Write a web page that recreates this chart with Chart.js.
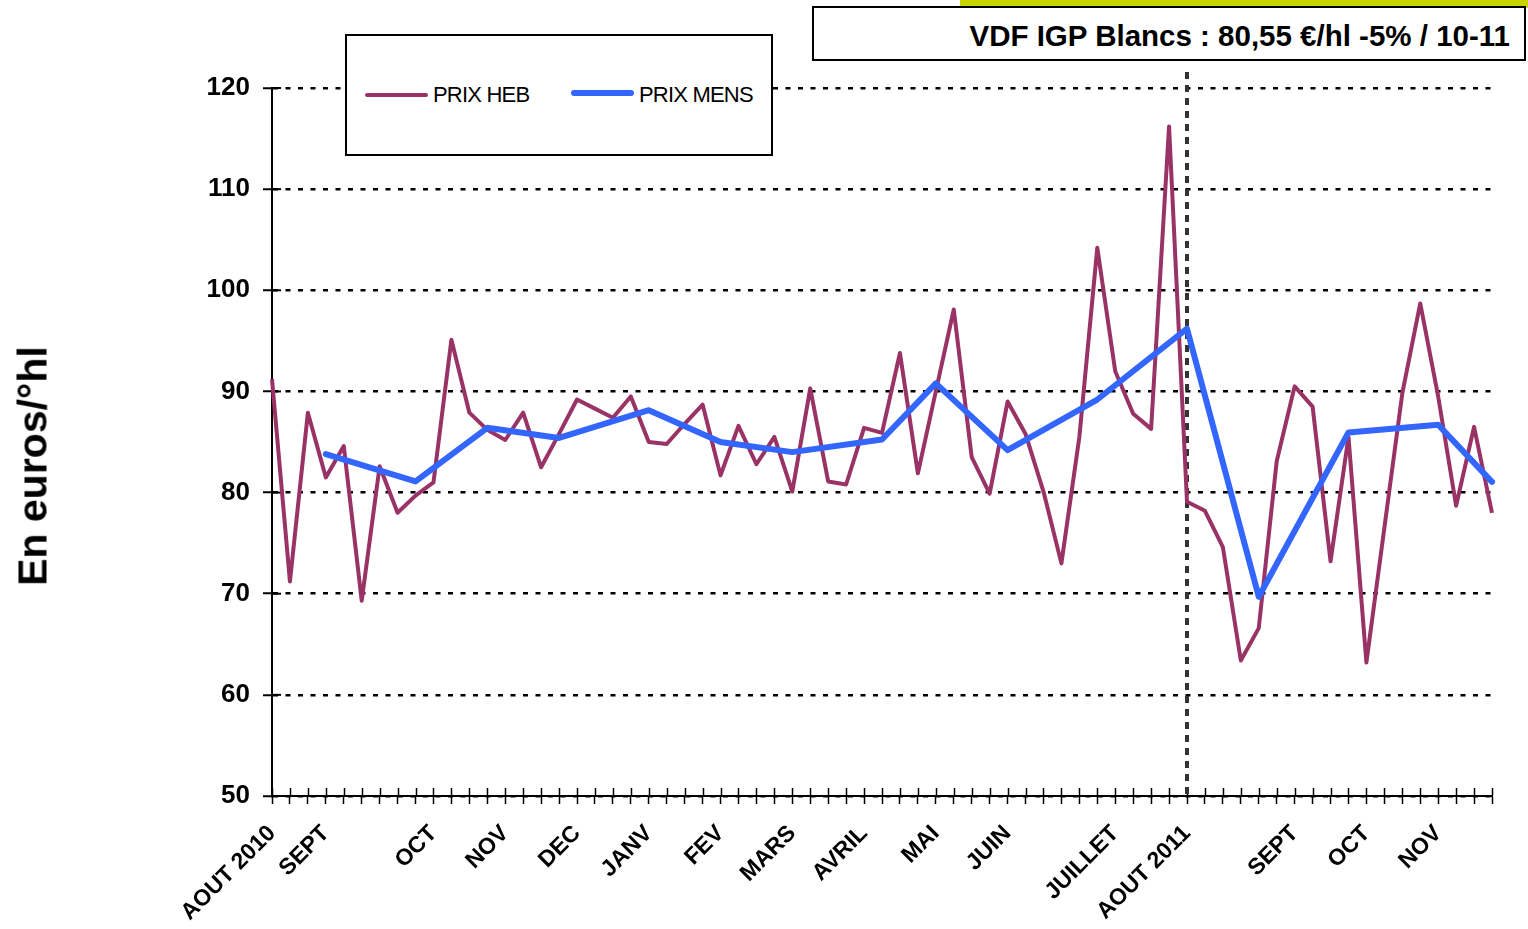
<!DOCTYPE html>
<html lang="fr">
<head>
<meta charset="utf-8">
<title>VDF IGP Blancs</title>
<script src="https://cdn.jsdelivr.net/npm/chart.js@4.4.1/dist/chart.umd.min.js"></script>
<style>
  html, body { margin: 0; padding: 0; background: #fff; }
  body { font-family: "Liberation Sans", Arial, sans-serif; }
  #wrap { position: relative; width: 1528px; height: 929px; overflow: hidden; }
  #grafico { position: absolute; left: 0; top: 0; }
  #bandeau { position: absolute; left: 960px; top: 0; width: 568px; height: 8px; background: #c8d400; }
  #titre {
    position: absolute; left: 812px; top: 6px; width: 710px; height: 51px;
    border: 2px solid #000; background: #fff; box-sizing: content-box;
    font-weight: bold; font-size: 29.5px; line-height: 55px; text-align: right;
  }
  #titre span { margin-right: 14px; }
  #legende {
    position: absolute; left: 345px; top: 34px; width: 424px; height: 118px;
    border: 2px solid #000; background: #fff; box-sizing: content-box;
  }
  .item { position: absolute; top: 46px; font-size: 22px; letter-spacing: -0.8px; line-height: 26px; }
  .trait { position: absolute; border-radius: 3px; }
  #ytitre {
    position: absolute; left: 33px; top: 466px; transform: translate(-50%, -50%) rotate(-90deg);
    font-weight: bold; font-size: 41px; white-space: nowrap;
  }
</style>
</head>
<body>
<div id="wrap">
  <canvas id="grafico" width="1528" height="929"></canvas>
  <div id="bandeau"></div>
  <div id="titre"><span>VDF IGP Blancs : 80,55 €/hl -5% / 10-11</span></div>
  <div id="legende">
    <div class="trait" style="left:18px; top:57px; width:63px; height:4px; background:#993366;"></div>
    <div class="item" style="left:86px;">PRIX HEB</div>
    <div class="trait" style="left:224px; top:54px; width:63px; height:6px; background:#3366ff;"></div>
    <div class="item" style="left:292px;">PRIX MENS</div>
  </div>
  <div id="ytitre">En euros/°hl</div>
</div>
<script>
// semaines : libellé seulement au début de chaque mois
const semaines = ['AOUT 2010', '', '', 'SEPT', '', '', '', '', '', 'OCT',
  '', '', '', 'NOV', '', '', '', 'DEC', '', '',
  '', 'JANV', '', '', '', 'FEV', '', '', '', 'MARS',
  '', '', '', 'AVRIL', '', '', '', 'MAI', '', '',
  '', 'JUIN', '', '', '', '', '', 'JUILLET', '', '',
  '', 'AOUT 2011', '', '', '', '', '', 'SEPT', '', '',
  '', 'OCT', '', '', '', 'NOV', '', '', '']

// prix hebdomadaire (euros/°hl)
const prixHeb = [91.2, 71.2, 87.9, 81.5, 84.6, 69.3, 82.6, 78.0, 79.7, 81.0,
  95.1, 87.9, 86.2, 85.2, 87.9, 82.5, 85.8, 89.2, 88.3, 87.4,
  89.5, 85.0, 84.8, 86.8, 88.7, 81.7, 86.6, 82.8, 85.5, 80.1,
  90.3, 81.1, 80.8, 86.4, 85.9, 93.8, 81.9, 90.0, 98.1, 83.5,
  79.9, 89.0, 85.8, 80.1, 73.0, 85.5, 104.2, 92.0, 87.8, 86.3,
  116.2, 79.1, 78.2, 74.6, 63.4, 66.6, 83.1, 90.5, 88.5, 73.2,
  85.5, 63.2, 76.5, 89.8, 98.7, 89.5, 78.7, 86.5, 78.0]

// prix mensuel, placé sur une semaine du mois
const prixMens = [null, null, null, 83.8, null, null, null, null, 81.1, null,
  null, null, 86.4, null, null, null, 85.4, null, null, null,
  null, 88.15, null, null, null, 85.0, null, null, null, 84.0,
  null, null, null, null, 85.25, null, null, 90.8, null, null,
  null, 84.2, null, null, null, null, 89.2, null, null, null,
  null, 96.2, null, null, null, 69.7, null, null, null, null,
  85.95, null, null, null, null, 86.7, null, null, 81.06]

const debutCampagne = 'AOUT 2011'
const graduationsY = [50, 60, 70, 80, 90, 100, 110, 120]

const police = "'Liberation Sans', Arial, sans-serif"

const extras = {
  id: 'extras',
  beforeDatasetsDraw(chart) {
    const { ctx, chartArea, scales: { x, y } } = chart
    ctx.save()
    ctx.strokeStyle = '#000'
    // petits traits qui traversent les axes
    ctx.lineWidth = 1.5
    x.ticks.forEach((t, i) => {
      const px = Math.round(x.getPixelForTick(i)) + 0.5
      ctx.beginPath()
      ctx.moveTo(px, chartArea.bottom)
      ctx.lineTo(px, chartArea.bottom - 8)
      ctx.stroke()
    })
    ctx.lineWidth = 2
    y.ticks.forEach((t, i) => {
      const py = y.getPixelForTick(i)
      ctx.beginPath()
      ctx.moveTo(chartArea.left, py)
      ctx.lineTo(chartArea.left + 9, py)
      ctx.stroke()
    })
    // séparation des campagnes
    const vx = x.getPixelForValue(semaines.indexOf(debutCampagne))
    ctx.strokeStyle = '#333'
    ctx.lineWidth = 4
    ctx.setLineDash([7, 6])
    ctx.beginPath()
    ctx.moveTo(vx, chartArea.top - 16)
    ctx.lineTo(vx, chartArea.bottom + 4)
    ctx.stroke()
    ctx.restore()
  }
}

const ctx = document.getElementById('grafico')
let grafico = new Chart(ctx, {
  type: 'line',
  data: {
    labels: semaines,
    datasets: [{
      label: 'PRIX HEB',
      data: prixHeb,
      borderColor: '#993366',
      borderWidth: 4,
      pointRadius: 0,
      tension: 0,
      borderJoinStyle: 'round',
      order: 2
    }, {
      label: 'PRIX MENS',
      data: prixMens,
      borderColor: '#3366ff',
      borderWidth: 6,
      pointRadius: 0,
      tension: 0,
      spanGaps: true,
      borderJoinStyle: 'round',
      borderCapStyle: 'round',
      order: 1
    }]
  },
  options: {
    responsive: false,
    animation: false,
    devicePixelRatio: 1,
    layout: { padding: { top: 88, right: 36, left: 0, bottom: 0 } },
    plugins: {
      legend: { display: false },
      tooltip: { enabled: false }
    },
    scales: {
      x: {
        afterFit: s => { s.height = 133 },
        grid: {
          drawOnChartArea: false,
          tickLength: 8,
          tickColor: '#000',
          tickWidth: 1.5
        },
        border: { display: true, color: '#000', width: 2 },
        ticks: {
          autoSkip: false,
          minRotation: 45,
          maxRotation: 45,
          padding: 16,
          color: '#000',
          font: { family: police, size: 23, weight: 'bold' }
        }
      },
      y: {
        min: 50,
        max: 120,
        afterFit: s => { s.width = 272 },
        afterBuildTicks: s => { s.ticks = graduationsY.map(v => ({ value: v })) },
        grid: {
          color: '#000',
          lineWidth: 2.5,
          tickLength: 9,
          tickColor: '#000',
          tickWidth: 2,
          tickBorderDash: []
        },
        border: { display: true, color: '#000', width: 2, dash: [5, 7.5] },
        ticks: {
          padding: 13,
          color: '#000',
          font: { family: police, size: 26, weight: 'bold' }
        }
      }
    }
  },
  plugins: [extras]
})
</script>
</body>
</html>
